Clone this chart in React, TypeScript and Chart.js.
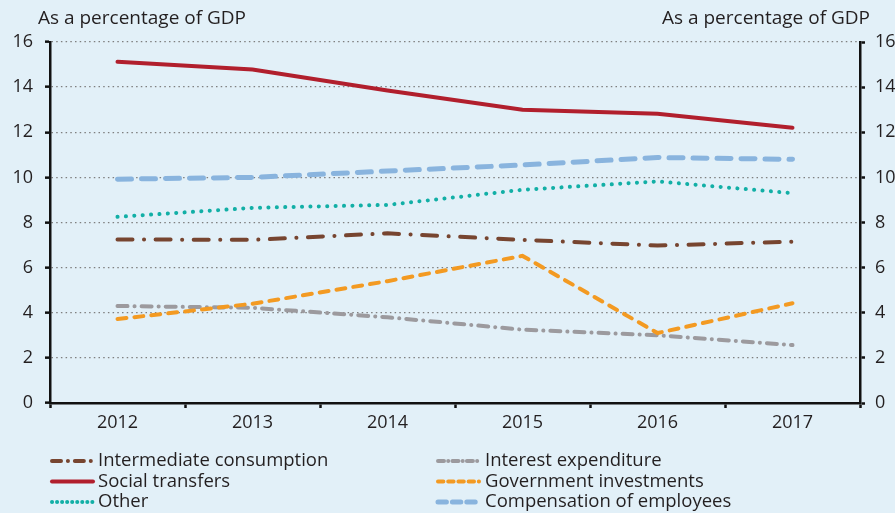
import React, { useEffect, useRef } from "react";
import { Chart, registerables } from "chart.js";

Chart.register(...registerables);

const categories = ["2012", "2013", "2014", "2015", "2016", "2017"];
const intermediate = [7.25, 7.23, 7.52, 7.23, 6.98, 7.15];
const social = [15.12, 14.78, 13.85, 13.0, 12.82, 12.2];
const other = [8.25, 8.65, 8.78, 9.45, 9.82, 9.3];
const interest = [4.3, 4.22, 3.8, 3.25, 3.0, 2.57];
const govInv = [3.72, 4.4, 5.4, 6.52, 3.1, 4.42];
const compensation = [9.92, 10.0, 10.28, 10.55, 10.88, 10.8];
const axisTitle = "As a percentage of GDP";

const FONT = "'Open Sans', sans-serif";
const TXT = "#231F20";
const BG = "#E2F0F8";

export default function App() {
  const ref = useRef<HTMLCanvasElement | null>(null);
  useEffect(() => {
    if (!ref.current) return;
    const mk = (label: string, data: number[], color: string, width: number, dash: number[], cap: CanvasLineCap, legendCol: number, legendRow: number) => ({
      label, data, borderColor: color, backgroundColor: color, borderWidth: width,
      borderDash: dash, borderCapStyle: cap, pointRadius: 0, tension: 0, fill: false,
      legendCol, legendRow,
    });
    const datasets: any[] = [
      mk("Social transfers", social, "#B11F2D", 4, [], "round", 0, 1),
      mk("Intermediate consumption", intermediate, "#774530", 4, [15, 11.5, 0.1, 11.5], "round", 0, 0),
      mk("Other", other, "#12AFA6", 4, [0.1, 8.3], "round", 0, 2),
      mk("Compensation of employees", compensation, "#89B4DE", 5, [14, 10], "round", 1, 2),
      mk("Government investments", govInv, "#F39A22", 4, [9, 8], "round", 1, 1),
      mk("Interest expenditure", interest, "#9C9A9E", 4, [10, 7, 0.1, 7], "round", 1, 0),
    ];

    const bgPlugin = {
      id: "bg",
      beforeDraw(chart: any) {
        const c = chart.ctx;
        c.save();
        c.fillStyle = BG;
        c.fillRect(0, 0, chart.width, chart.height);
        c.restore();
      },
      afterDraw(chart: any) {
        const c = chart.ctx;
        c.save();
        c.fillStyle = TXT;
        c.font = `19px ${FONT}`;
        c.textBaseline = "middle";
        c.textAlign = "left";
        c.fillText(axisTitle, 38, 19);
        c.textAlign = "right";
        c.fillText(axisTitle, 870, 19);
        // legend
        const cols = [{ x: 50, w: 43, t: 98 }, { x: 436, w: 43, t: 485 }];
        const rows = [461, 481.5, 502];
        chart.data.datasets.forEach((ds: any) => {
          const col = cols[ds.legendCol];
          const y = rows[ds.legendRow];
          c.beginPath();
          c.strokeStyle = ds.borderColor;
          c.lineWidth = ds.borderWidth;
          c.lineCap = ds.borderCapStyle;
          c.setLineDash(ds.borderDash.map((d: number) => d * 0.6));
          c.moveTo(col.x + 2, y);
          c.lineTo(col.x + col.w, y);
          c.stroke();
          c.setLineDash([]);
          c.fillStyle = TXT;
          c.font = `18.5px ${FONT}`;
          c.textAlign = "left";
          c.textBaseline = "middle";
          c.fillText(ds.label, col.t, y);
        });
        c.restore();
      },
    };

    const chart = new Chart(ref.current, {
      type: "line",
      data: { labels: categories, datasets },
      plugins: [bgPlugin],
      options: {
        animation: false,
        responsive: true,
        maintainAspectRatio: false,
        layout: { padding: { top: 42, left: 0, right: 0, bottom: 0 } },
        plugins: { legend: { display: false }, tooltip: { enabled: false } },
        scales: {
          x: {
            type: "category",
            offset: true,
            grid: { offset: true, drawOnChartArea: false, tickLength: 5, tickColor: "#111", tickWidth: 2.5 },
            border: { color: "#111", width: 2.5 },
            ticks: { color: TXT, font: { family: FONT, size: 18 }, padding: 4, maxRotation: 0 },
            afterFit(s: any) { s.height = 110; },
          },
          y: {
            position: "left",
            min: 0, max: 16,
            ticks: { stepSize: 2, color: TXT, font: { family: FONT, size: 18 }, padding: 12 },
            grid: { color: "#7F7F7F", lineWidth: 1.3, tickLength: 5, tickColor: "#111", tickWidth: 2.5, tickBorderDash: [] },
            border: { color: "#111", width: 2.5, dash: [1.5, 3.2] },
            afterFit(s: any) { s.width = 50; },
          },
          y1: {
            position: "right",
            min: 0, max: 16,
            ticks: { stepSize: 2, color: TXT, font: { family: FONT, size: 18 }, padding: 10 },
            grid: { drawOnChartArea: false, tickLength: 5, tickColor: "#111", tickWidth: 2.5 },
            border: { color: "#111", width: 2.5 },
            afterFit(s: any) { s.width = 35; },
          },
        },
      } as any,
    });
    return () => chart.destroy();
  }, []);
  return (
    <div style={{ position: "fixed", left: 0, top: 0, width: 895, height: 513, background: BG }}>
      <canvas ref={ref} />
    </div>
  );
}
